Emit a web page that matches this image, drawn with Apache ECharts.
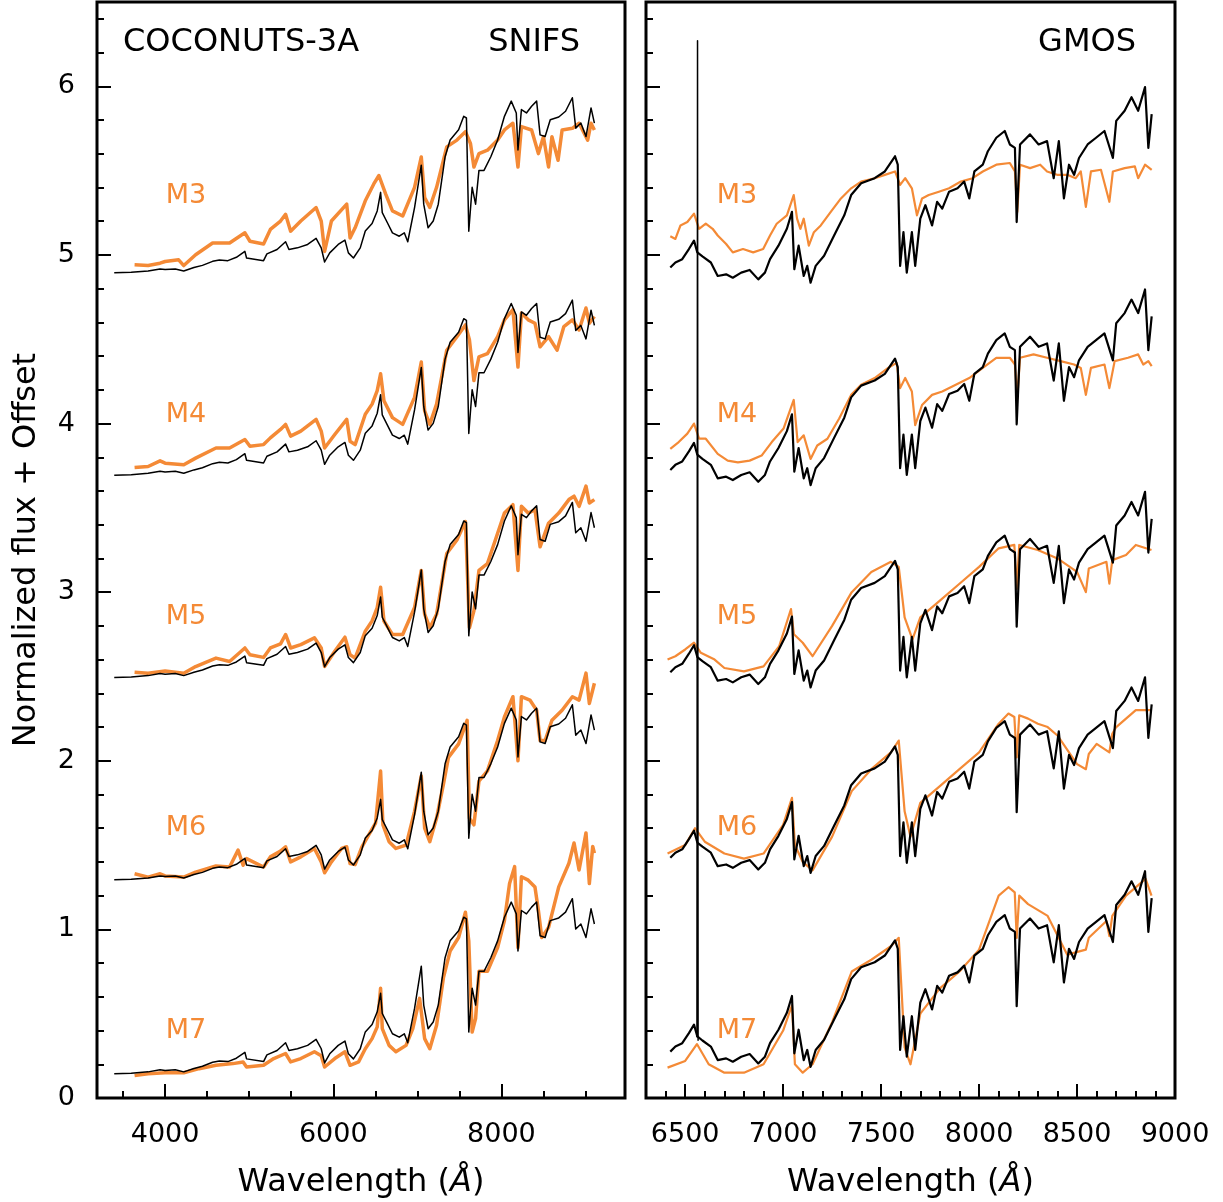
<!DOCTYPE html>
<html>
<head>
<meta charset="utf-8">
<script src="https://cdn.jsdelivr.net/npm/echarts@6/dist/echarts.min.js"></script>
<style>
  html, body { margin: 0; padding: 0; background: #fff; }
  #chart { width: 1223px; height: 1202px; }
</style>
</head>
<body>
<div id="chart"></div>
<script>
// spectral types, top to bottom
const types = ["M3", "M4", "M5", "M6", "M7"];

// COCONUTS-3A SNIFS spectrum (bottom row, offset 0)
const snifsTarget = [[3395,0.144],[3597,0.147],[3798,0.155],[3940,0.167],[4000,0.163],[4121,0.167],[4222,0.155],[4343,0.175],[4444,0.188],[4565,0.212],[4646,0.220],[4747,0.216],[4848,0.236],[4949,0.271],[4969,0.232],[5171,0.216],[5211,0.256],[5332,0.282],[5433,0.328],[5473,0.282],[5574,0.292],[5695,0.312],[5796,0.348],[5857,0.292],[5897,0.208],[5958,0.262],[6059,0.312],[6139,0.338],[6180,0.262],[6240,0.232],[6321,0.292],[6381,0.392],[6462,0.436],[6523,0.511],[6563,0.621],[6583,0.501],[6644,0.441],[6704,0.381],[6785,0.361],[6845,0.381],[6886,0.328],[6967,0.531],[7047,0.782],[7076,0.551],[7128,0.411],[7189,0.451],[7249,0.551],[7330,0.832],[7390,0.932],[7491,0.992],[7552,1.072],[7584,1.062],[7612,0.391],[7652,0.651],[7693,0.551],[7733,0.751],[7793,0.751],[7874,0.832],[7955,0.932],[8036,1.072],[8117,1.162],[8177,1.092],[8197,0.872],[8238,1.112],[8298,1.092],[8359,1.132],[8419,1.162],[8460,0.962],[8520,0.952],[8581,1.052],[8682,1.068],[8763,1.102],[8844,1.182],[8884,1.002],[8945,1.032],[9006,0.952],[9066,1.122],[9106,1.032]];
const snifsOffsets = [4.75, 3.55, 2.35, 1.15, 0];

// SNIFS templates (already offset)
const snifsM3 = [[3637,4.941],[3798,4.937],[3940,4.951],[4000,4.961],[4161,4.971],[4222,4.937],[4363,5.001],[4565,5.071],[4767,5.071],[4949,5.131],[5009,5.081],[5171,5.065],[5252,5.151],[5373,5.201],[5433,5.241],[5493,5.141],[5614,5.201],[5796,5.281],[5857,5.201],[5897,5.021],[5978,5.201],[6160,5.301],[6200,5.101],[6260,5.161],[6381,5.321],[6482,5.421],[6543,5.471],[6624,5.361],[6704,5.261],[6826,5.231],[6967,5.401],[7047,5.581],[7087,5.341],[7148,5.281],[7229,5.401],[7350,5.641],[7471,5.681],[7572,5.731],[7632,5.661],[7673,5.521],[7733,5.601],[7834,5.621],[7955,5.681],[8036,5.741],[8137,5.781],[8197,5.521],[8238,5.761],[8359,5.741],[8440,5.601],[8500,5.701],[8561,5.521],[8601,5.701],[8674,5.561],[8722,5.741],[8844,5.751],[8924,5.781],[9026,5.681],[9066,5.781],[9106,5.741]];
const snifsM4 = [[3637,3.739],[3798,3.745],[3940,3.779],[4000,3.765],[4222,3.755],[4363,3.795],[4605,3.855],[4767,3.855],[4949,3.905],[5009,3.865],[5171,3.875],[5252,3.915],[5373,3.965],[5433,3.995],[5493,3.925],[5614,3.955],[5796,4.025],[5857,3.955],[5897,3.855],[6018,3.935],[6160,4.025],[6200,3.895],[6260,3.875],[6381,4.055],[6462,4.115],[6523,4.195],[6563,4.295],[6603,4.135],[6704,4.035],[6826,3.995],[6967,4.155],[7047,4.365],[7087,4.075],[7148,3.995],[7229,4.115],[7350,4.435],[7471,4.515],[7572,4.585],[7620,4.495],[7673,4.255],[7733,4.395],[7834,4.415],[7955,4.515],[8036,4.615],[8137,4.675],[8197,4.335],[8238,4.655],[8319,4.615],[8399,4.595],[8460,4.455],[8561,4.515],[8662,4.435],[8743,4.575],[8844,4.615],[8924,4.555],[9006,4.685],[9046,4.595],[9106,4.635]];
const snifsM5 = [[3637,2.525],[3798,2.519],[4000,2.533],[4222,2.519],[4363,2.559],[4605,2.609],[4767,2.589],[4949,2.669],[5009,2.629],[5171,2.613],[5252,2.669],[5373,2.693],[5433,2.749],[5493,2.669],[5614,2.689],[5776,2.729],[5857,2.669],[5897,2.559],[6018,2.649],[6139,2.733],[6200,2.629],[6260,2.609],[6381,2.769],[6462,2.829],[6523,2.909],[6563,3.029],[6603,2.829],[6704,2.749],[6826,2.749],[6967,2.909],[7047,3.129],[7087,2.869],[7148,2.789],[7229,2.869],[7350,3.229],[7471,3.309],[7572,3.419],[7620,2.789],[7673,2.889],[7733,3.129],[7834,3.169],[7955,3.349],[8036,3.469],[8137,3.519],[8197,3.129],[8238,3.509],[8319,3.469],[8399,3.489],[8460,3.269],[8561,3.409],[8682,3.469],[8803,3.549],[8864,3.569],[8924,3.509],[9006,3.629],[9046,3.529],[9106,3.549]];
const snifsM6 = [[3637,1.330],[3798,1.310],[3940,1.330],[4000,1.317],[4222,1.310],[4363,1.340],[4605,1.376],[4767,1.370],[4868,1.470],[4928,1.380],[4969,1.420],[5171,1.370],[5252,1.430],[5373,1.464],[5433,1.490],[5493,1.400],[5614,1.430],[5776,1.480],[5857,1.400],[5897,1.336],[5978,1.400],[6099,1.480],[6160,1.490],[6200,1.390],[6260,1.384],[6341,1.490],[6422,1.560],[6503,1.630],[6563,1.939],[6591,1.620],[6664,1.520],[6745,1.480],[6866,1.500],[6967,1.700],[7047,1.910],[7087,1.600],[7148,1.520],[7229,1.660],[7310,1.860],[7370,2.020],[7491,2.100],[7592,2.240],[7620,1.660],[7673,1.620],[7733,1.880],[7834,1.940],[7955,2.120],[8036,2.260],[8137,2.380],[8197,2.000],[8238,2.380],[8339,2.360],[8419,2.300],[8460,2.120],[8520,2.120],[8601,2.240],[8722,2.300],[8844,2.380],[8924,2.360],[9006,2.520],[9046,2.340],[9106,2.460]];
const snifsM7 = [[3637,0.134],[3798,0.144],[4000,0.150],[4222,0.150],[4404,0.174],[4605,0.194],[4807,0.204],[4928,0.214],[4969,0.184],[5171,0.194],[5292,0.234],[5433,0.264],[5493,0.214],[5614,0.234],[5776,0.274],[5857,0.250],[5897,0.184],[6018,0.234],[6139,0.274],[6200,0.194],[6301,0.214],[6381,0.292],[6462,0.352],[6523,0.422],[6563,0.651],[6583,0.412],[6664,0.312],[6745,0.274],[6866,0.312],[6946,0.412],[7027,0.591],[7087,0.352],[7148,0.292],[7229,0.432],[7310,0.712],[7390,0.872],[7491,0.952],[7572,1.102],[7612,0.932],[7652,0.391],[7693,0.471],[7733,0.751],[7834,0.751],[7955,0.892],[8036,1.052],[8097,1.272],[8157,1.372],[8197,0.892],[8238,1.312],[8319,1.292],[8399,1.252],[8440,1.112],[8480,0.952],[8561,1.012],[8682,1.252],[8803,1.392],[8864,1.512],[8924,1.352],[9006,1.572],[9046,1.272],[9086,1.492],[9106,1.452]];

// COCONUTS-3A GMOS spectrum (bottom row, offset 0)
const gmosTarget = [[6424,0.175],[6450,0.205],[6485,0.225],[6519,0.285],[6545,0.335],[6562,0.265],[6588,0.241],[6631,0.205],[6666,0.125],[6709,0.135],[6743,0.115],[6786,0.145],[6829,0.161],[6873,0.105],[6907,0.145],[6933,0.225],[6976,0.305],[7019,0.405],[7045,0.505],[7057,0.165],[7079,0.305],[7105,0.125],[7123,0.185],[7140,0.085],[7166,0.185],[7209,0.245],[7260,0.365],[7312,0.485],[7347,0.605],[7398,0.675],[7467,0.705],[7519,0.745],[7571,0.835],[7585,0.785],[7597,0.185],[7614,0.385],[7631,0.145],[7657,0.385],[7674,0.185],[7700,0.465],[7726,0.545],[7760,0.425],[7786,0.565],[7812,0.525],[7847,0.625],[7890,0.645],[7924,0.685],[7950,0.585],[7976,0.745],[8019,0.785],[8045,0.865],[8088,0.945],[8131,0.985],[8157,0.905],[8183,0.885],[8192,0.445],[8209,0.905],[8260,0.965],[8304,0.905],[8347,0.925],[8381,0.705],[8407,0.925],[8433,0.585],[8459,0.785],[8485,0.725],[8510,0.825],[8554,0.905],[8597,0.945],[8640,0.985],[8683,0.825],[8700,1.045],[8743,1.105],[8778,1.185],[8812,1.105],[8847,1.245],[8864,0.885],[8881,1.085]];
const gmosOffsets = [4.75, 3.55, 2.35, 1.25, 0.1];
// narrow H-alpha spike in the bottom GMOS spectrum
const gmosSpike = [[6560,0.36],[6563,6.27],[6566,0.34]];

// GMOS templates (already offset)
const gmosM3 = [[6424,5.111],[6450,5.095],[6476,5.175],[6511,5.195],[6545,5.245],[6571,5.155],[6605,5.185],[6640,5.155],[6666,5.115],[6709,5.065],[6743,5.015],[6795,5.035],[6847,5.015],[6898,5.035],[6933,5.115],[6967,5.185],[7019,5.235],[7054,5.355],[7071,5.215],[7088,5.155],[7105,5.215],[7131,5.055],[7157,5.135],[7192,5.175],[7243,5.255],[7295,5.335],[7347,5.395],[7398,5.435],[7467,5.455],[7519,5.475],[7571,5.495],[7597,5.415],[7623,5.455],[7657,5.395],[7683,5.235],[7709,5.335],[7743,5.355],[7795,5.375],[7847,5.395],[7907,5.435],[7967,5.455],[8019,5.495],[8088,5.535],[8157,5.545],[8183,5.495],[8195,5.255],[8209,5.535],[8260,5.515],[8312,5.535],[8347,5.495],[8398,5.475],[8450,5.475],[8493,5.455],[8519,5.495],[8545,5.285],[8571,5.495],[8622,5.505],[8665,5.315],[8683,5.495],[8743,5.515],[8795,5.525],[8812,5.455],[8847,5.535],[8881,5.505]];
const gmosM4 = [[6424,3.850],[6467,3.890],[6511,3.940],[6545,4.000],[6571,3.910],[6605,3.910],[6666,3.820],[6717,3.780],[6769,3.770],[6829,3.780],[6890,3.810],[6942,3.890],[7002,3.970],[7054,4.140],[7074,3.890],[7105,3.930],[7140,3.790],[7174,3.870],[7226,3.910],[7286,4.030],[7347,4.170],[7398,4.230],[7467,4.270],[7536,4.330],[7579,4.360],[7597,4.210],[7623,4.270],[7657,4.190],[7674,3.990],[7709,4.110],[7760,4.170],[7812,4.190],[7881,4.230],[7950,4.270],[8019,4.330],[8088,4.390],[8157,4.390],[8183,4.350],[8195,4.150],[8209,4.390],[8278,4.410],[8347,4.390],[8416,4.370],[8485,4.350],[8519,4.330],[8545,4.170],[8571,4.330],[8640,4.350],[8665,4.210],[8692,4.370],[8760,4.390],[8812,4.410],[8838,4.350],[8864,4.370],[8881,4.340]];
const gmosM5 = [[6410,2.60],[6450,2.62],[6500,2.66],[6545,2.70],[6580,2.64],[6650,2.60],[6700,2.55],[6800,2.53],[6900,2.56],[6980,2.68],[7040,2.90],[7055,2.75],[7100,2.70],[7150,2.62],[7250,2.80],[7350,3.00],[7450,3.12],[7550,3.18],[7590,3.15],[7620,2.85],[7660,2.72],[7700,2.85],[7800,2.95],[7900,3.05],[8000,3.15],[8100,3.26],[8180,3.28],[8192,3.02],[8205,3.28],[8300,3.25],[8400,3.20],[8500,3.12],[8545,3.00],[8560,3.14],[8650,3.18],[8665,3.05],[8680,3.19],[8750,3.22],[8800,3.28],[8880,3.25]];
const gmosM6 = [[6410,1.45],[6500,1.50],[6550,1.60],[6600,1.52],[6700,1.45],[6800,1.42],[6900,1.45],[7000,1.62],[7045,1.78],[7060,1.50],[7100,1.40],[7150,1.35],[7250,1.55],[7350,1.82],[7450,1.95],[7550,2.05],[7590,2.12],[7620,1.70],[7650,1.55],[7700,1.75],[7800,1.85],[7900,1.95],[8000,2.05],[8100,2.22],[8150,2.28],[8180,2.26],[8192,2.02],[8205,2.27],[8250,2.25],[8300,2.22],[8350,2.20],[8400,2.15],[8500,1.98],[8545,1.95],[8560,2.04],[8600,2.10],[8665,2.05],[8680,2.16],[8700,2.20],[8800,2.30],[8880,2.30]];
const gmosM7 = [[6410,0.18],[6500,0.22],[6560,0.32],[6620,0.20],[6700,0.15],[6800,0.15],[6900,0.20],[7000,0.40],[7045,0.55],[7060,0.20],[7100,0.15],[7150,0.20],[7250,0.45],[7350,0.75],[7450,0.82],[7550,0.90],[7590,0.95],[7620,0.30],[7650,0.20],[7700,0.50],[7800,0.65],[7900,0.75],[8000,0.88],[8100,1.20],[8150,1.25],[8182,1.22],[8192,0.95],[8205,1.20],[8250,1.15],[8350,1.08],[8450,0.85],[8545,0.88],[8560,0.95],[8650,1.05],[8665,0.96],[8680,1.08],[8750,1.20],[8850,1.30],[8880,1.20]];

const snifsTemplates = [snifsM3, snifsM4, snifsM5, snifsM6, snifsM7];
const gmosTemplates = [gmosM3, gmosM4, gmosM5, gmosM6, gmosM7];

const ORANGE = "#f48a36";
const FONT = "DejaVu Sans";

var chartDom = document.getElementById("chart");
var myChart = echarts.init(chartDom, null, { renderer: "canvas" });

// tick position lists (axis decoration only)
function steps(from, to, step, skip) {
  const out = [];
  for (let v = from; v <= to + 1e-9; v += step) {
    const r = Math.round(v * 1000) / 1000;
    if (!skip(r)) out.push(r);
  }
  return out;
}
const yMajor = [0, 1, 2, 3, 4, 5, 6];
const yMinor = steps(0.2, 6.4, 0.2, (v) => Math.abs(v - Math.round(v)) < 1e-6);
const snifsMajor = [4000, 6000, 8000];
const snifsMinor = [3500, 4500, 5000, 5500, 6500, 7000, 7500, 8500, 9000];
const gmosMajor = [6500, 7000, 7500, 8000, 8500, 9000];
const gmosMinor = steps(6400, 8900, 100, (v) => v % 500 === 0);

const tickLine = { color: "#000", width: 2 };
const labelStyle = { color: "#000", fontSize: 27, fontFamily: FONT, formatter: (v) => String(v) };

function mainX(grid, min, max, major) {
  return {
    type: "value", gridIndex: grid, min: min, max: max,
    axisLine: { show: false },
    splitLine: { show: false },
    axisTick: { show: true, inside: true, length: 14, lineStyle: tickLine, customValues: major },
    axisLabel: Object.assign({ margin: 23, customValues: major }, labelStyle),
    name: "Wavelength ({i|Å})",
    nameLocation: "middle",
    nameGap: 69,
    nameTextStyle: {
      fontSize: 32, fontFamily: FONT, color: "#000",
      rich: { i: { fontSize: 32, fontFamily: FONT, fontStyle: "italic", color: "#000" } },
    },
  };
}
function minorX(grid, min, max, minor) {
  return {
    type: "value", gridIndex: grid, min: min, max: max, position: "bottom",
    axisLine: { show: false }, splitLine: { show: false },
    axisLabel: { show: false },
    axisTick: { show: true, inside: true, length: 7, lineStyle: tickLine, customValues: minor },
  };
}
function mainY(grid, showLabels) {
  const ax = {
    type: "value", gridIndex: grid, min: 0, max: 6.5,
    axisLine: { show: false }, splitLine: { show: false },
    axisTick: { show: true, inside: true, length: 14, lineStyle: tickLine, customValues: yMajor },
    axisLabel: Object.assign({ show: showLabels, margin: 22, customValues: yMajor }, labelStyle),
  };
  if (showLabels) {
    ax.name = "Normalized flux + Offset";
    ax.nameLocation = "middle";
    ax.nameGap = 54;
    ax.nameTextStyle = { fontSize: 32, fontFamily: FONT, color: "#000" };
  }
  return ax;
}
function minorY(grid) {
  return {
    type: "value", gridIndex: grid, min: 0, max: 6.5, position: "left",
    axisLine: { show: false }, splitLine: { show: false },
    axisLabel: { show: false },
    axisTick: { show: true, inside: true, length: 7, lineStyle: tickLine, customValues: yMinor },
  };
}

function lineSeries(xi, yi, data, color, width, z) {
  return {
    type: "line", xAxisIndex: xi, yAxisIndex: yi, data: data,
    symbol: "none", showSymbol: false, silent: true, animation: false,
    lineStyle: { color: color, width: width, join: "round" }, z: z,
  };
}

const series = [];
snifsTemplates.forEach(function (t) {
  series.push(lineSeries(0, 0, t, ORANGE, 3.5, 2));
});
snifsOffsets.forEach(function (off) {
  series.push(lineSeries(0, 0, snifsTarget.map((p) => [p[0], p[1] + off]), "#000", 1.5, 3));
});
gmosTemplates.forEach(function (t) {
  series.push(lineSeries(2, 2, t, ORANGE, 2.2, 2));
});
gmosOffsets.forEach(function (off) {
  series.push(lineSeries(2, 2, gmosTarget.map((p) => [p[0], p[1] + off]), "#000", 2.2, 3));
});
series.push(lineSeries(2, 2, gmosSpike, "#000", 1.5, 3));

// spectral type labels and panel titles
const labelCentersY = [196, 415, 617, 828, 1031];
const graphics = [];
types.forEach(function (t, i) {
  [186, 737].forEach(function (cx) {
    graphics.push({
      type: "text", x: cx, y: labelCentersY[i],
      style: { text: t, fill: ORANGE, font: "27px '" + FONT + "'", textAlign: "center", textVerticalAlign: "middle" },
    });
  });
});
[["COCONUTS-3A", 123, "left"], ["SNIFS", 580, "right"], ["GMOS", 1136, "right"]].forEach(function (a) {
  graphics.push({
    type: "text", x: a[1], y: 43,
    style: { text: a[0], fill: "#000", font: "32px '" + FONT + "'", textAlign: a[2], textVerticalAlign: "middle" },
  });
});

var option = {
  animation: false,
  backgroundColor: "#fff",
  textStyle: { fontFamily: FONT },
  grid: [
    { left: 97, top: 2, width: 528, height: 1096, outerBoundsMode: "none", show: true, borderColor: "#000", borderWidth: 3, backgroundColor: "transparent" },
    { left: 646, top: 2, width: 529, height: 1096, outerBoundsMode: "none", show: true, borderColor: "#000", borderWidth: 3, backgroundColor: "transparent" },
  ],
  xAxis: [
    mainX(0, 3190, 9470, snifsMajor),
    minorX(0, 3190, 9470, snifsMinor),
    mainX(1, 6300, 9000, gmosMajor),
    minorX(1, 6300, 9000, gmosMinor),
  ],
  yAxis: [mainY(0, true), minorY(0), mainY(1, false), minorY(1)],
  series: series,
  graphic: graphics,
};

myChart.setOption(option);
window.addEventListener("resize", function () {
  myChart.resize();
});
</script>
</body>
</html>
